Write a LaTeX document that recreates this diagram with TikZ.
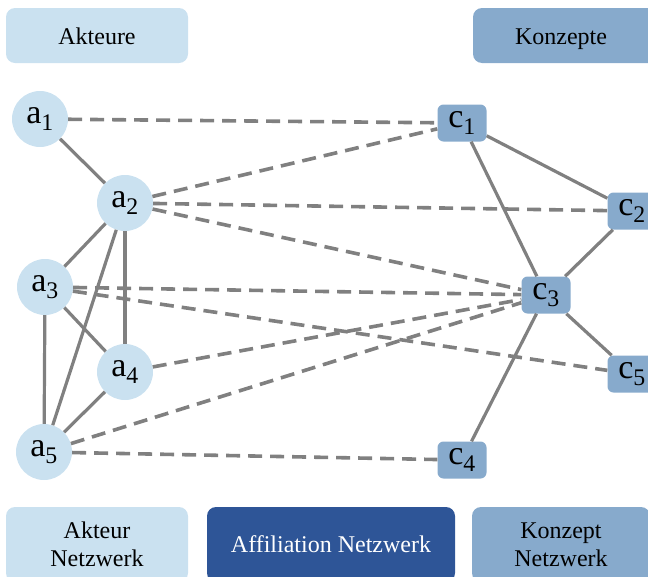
\documentclass[tikz,border=0pt]{standalone}
\usepackage{fontspec}
\setmainfont{Liberation Serif}
\definecolor{lightb}{HTML}{CAE1F0}
\definecolor{midb}{HTML}{87AACC}
\definecolor{darkb}{HTML}{2E5597}
\definecolor{edgegray}{HTML}{808080}
\begin{document}
\begin{tikzpicture}[x=1pt,y=-1pt,
  actor/.style={circle,fill=lightb,minimum size=56pt,inner sep=0pt,font=\fontsize{34}{34}\selectfont},
  concept/.style={rectangle,rounded corners=6pt,fill=midb,minimum width=49pt,minimum height=37pt,inner sep=0pt,font=\fontsize{34}{34}\selectfont},
  labelbox/.style={rectangle,rounded corners=9pt,minimum height=55pt,inner sep=0pt,align=center,font=\fontsize{24}{28}\selectfont},
  solidedge/.style={draw=edgegray,line width=3.2pt},
  dashedge/.style={draw=edgegray,line width=3.6pt,dash pattern=on 14pt off 8pt}]
\useasboundingbox (0,0) rectangle (648,576);
\clip (0,0) rectangle (648,576);
% label boxes
\node[labelbox,fill=lightb,minimum width=182pt] (akt) at (97,35.5) {};
\node at (97,39) [font=\fontsize{24}{28}\selectfont] (akttxt) {\vphantom{Kp}Akteure};
\node[labelbox,fill=midb,minimum width=185pt] (konz) at (565.5,35.5) {};
\node at (561,39) [font=\fontsize{24}{28}\selectfont] (konztxt) {\vphantom{Kp}Konzepte};
\node[labelbox,fill=lightb,minimum width=182pt,minimum height=75pt] (aktnet) at (97,544.5) {Akteur\\Netzwerk};
\node[labelbox,fill=darkb,text=white,minimum width=248pt,minimum height=75pt] (affnet) at (331,544.5) {Affiliation Netzwerk};
\node[labelbox,fill=midb,minimum width=178pt,minimum height=75pt] (konznet) at (561,544.5) {Konzept\\Netzwerk};
% actors
\node[actor] (a1) at (40,119) {a\textsubscript{1}};
\node[actor] (a2) at (125,203) {a\textsubscript{2}};
\node[actor] (a3) at (45,287) {a\textsubscript{3}};
\node[actor] (a4) at (125,372) {a\textsubscript{4}};
\node[actor] (a5) at (44,452) {a\textsubscript{5}};
% concepts
\node[concept] (c1) at (462,123) {c\textsubscript{1}};
\node[concept] (c2) at (632,211) {c\textsubscript{2}};
\node[concept] (c3) at (546,295) {c\textsubscript{3}};
\node[concept] (c5) at (632,374) {c\textsubscript{5}};
\node[concept] (c4) at (462,460) {c\textsubscript{4}};
% actor network
\draw[solidedge] (a1) -- (a2);
\draw[solidedge] (a2) -- (a3);
\draw[solidedge] (a2) -- (a4);
\draw[solidedge] (a2) -- (a5);
\draw[solidedge] (a3) -- (a4);
\draw[solidedge] (a3) -- (a5);
\draw[solidedge] (a4) -- (a5);
% concept network
\draw[solidedge] (c1) -- (c2);
\draw[solidedge] (c1) -- (c3);
\draw[solidedge] (c2) -- (c3);
\draw[solidedge] (c3) -- (c5);
\draw[solidedge] (c3) -- (c4);
% affiliations
\draw[dashedge] (a1) -- (c1);
\draw[dashedge] (a2) -- (c1);
\draw[dashedge] (a2) -- (c2);
\draw[dashedge] (a2) -- (c3);
\draw[dashedge] (a3) -- (c3);
\draw[dashedge] (a3) -- (c5);
\draw[dashedge] (a4) -- (c3);
\draw[dashedge] (a5) -- (c3);
\draw[dashedge] (a5) -- (c4);
\end{tikzpicture}
\end{document}
